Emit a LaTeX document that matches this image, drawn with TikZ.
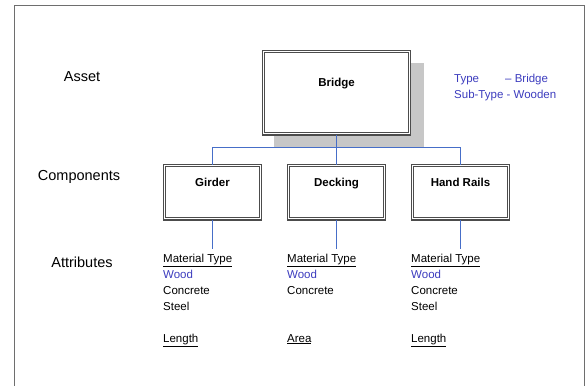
\documentclass[tikz,border=0pt]{standalone}
\usepackage{fontspec}
\setmainfont{Liberation Sans}
\usepackage{tikz}
\usetikzlibrary{positioning,calc}

\definecolor{linkblue}{RGB}{70,110,200}
\definecolor{textblue}{RGB}{60,60,190}
\definecolor{framegray}{RGB}{110,110,110}

\tikzset{
    box/.style={draw=black!70, double=white, double distance=1pt, line width=1.2pt,
        fill=white, inner sep=0pt, font=\bfseries\fontsize{11.5}{14}\selectfont},
    link/.style={linkblue, line width=1.1pt},
    level/.style={font=\fontsize{14.5}{17}\selectfont},
    attr/.style={anchor=north west, inner sep=0pt, align=left, font=\fontsize{11.5}{16}\selectfont}
}
\newcommand{\wood}{\textcolor{textblue}{Wood}}

\begin{document}
\begin{tikzpicture}[x=1pt, y=-1pt]
    \useasboundingbox (0,0) rectangle (585,385);
    \clip (0,0) rectangle (585,385);

    % Frame
    \draw[framegray, line width=1pt] (14,6) rectangle (584,400);

    % Levels
    \node[level] (asset) at (82,77) {Asset};
    \node[level] (components) at (79,177) {Components};
    \node[level] (attributes) at (82,262) {Attributes};

    % Asset
    \fill[black!22] (274,63) rectangle (424,148);
    \node[box, anchor=north, minimum width=145.6pt, text height=35pt, text depth=47.6pt]
        (bridge) at (336.5,50.7) {Bridge};
    \node[anchor=north west, inner sep=0pt, align=left, textblue,
        font=\fontsize{11.5}{16}\selectfont] (type) at (454,73.5)
        {\makebox[51pt][l]{Type}-- Bridge\\Sub-Type - Wooden};

    % Components
    \node[box, anchor=north, minimum width=95.6pt, text height=21pt, text depth=32.6pt]
        (girder) at (212.5,164.7) {Girder};
    \node[box, anchor=north, minimum width=95.6pt, text height=21pt, text depth=32.6pt]
        (decking) at (336.5,164.7) {Decking};
    \node[box, anchor=north, minimum width=95.6pt, text height=21pt, text depth=32.6pt]
        (rails) at (460.5,164.7) {Hand Rails};

    \draw[link] (bridge.south) -- ++(0,13) -| (girder.north);
    \draw[link] (bridge.south) -- ++(0,13) -| (rails.north);
    \draw[link] (bridge.south) -- (decking.north);

    % Attributes
    \node[attr] (girderatt) at (163,253.5)
        {\underline{Material Type}\\\wood\\Concrete\\Steel\\[16pt]\underline{Length}};
    \node[attr] (deckingatt) at (287,253.5)
        {\underline{Material Type}\\\wood\\Concrete\\[32pt]\underline{Area}};
    \node[attr] (railsatt) at (411,253.5)
        {\underline{Material Type}\\\wood\\Concrete\\Steel\\[16pt]\underline{Length}};

    \draw[link, shorten >=5pt] (girder.south) -- (girder.south |- girderatt.north);
    \draw[link, shorten >=5pt] (decking.south) -- (decking.south |- deckingatt.north);
    \draw[link, shorten >=5pt] (rails.south) -- (rails.south |- railsatt.north);
\end{tikzpicture}
\end{document}
